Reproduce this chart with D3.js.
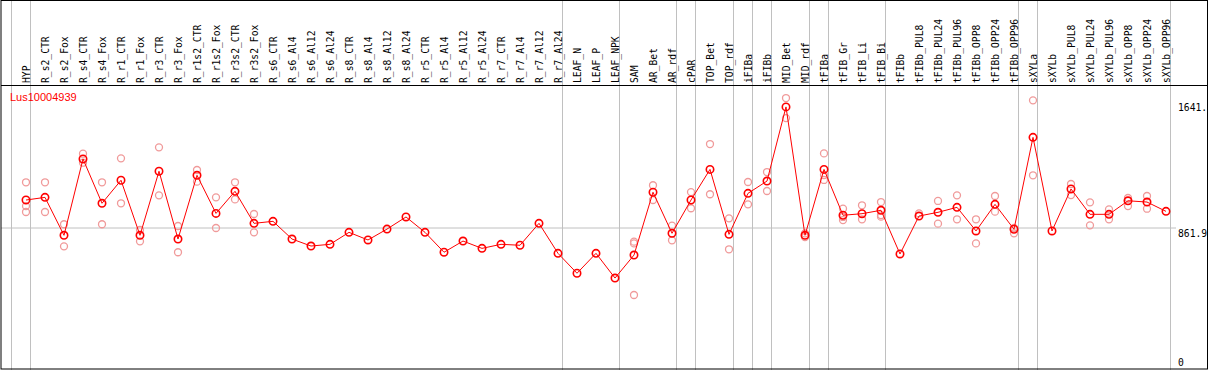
<!DOCTYPE html>
<html>
<head>
<meta charset="utf-8">
<script src="https://cdn.jsdelivr.net/npm/d3@7"></script>
<style>
body { margin: 0; background: #fff; }
svg { display: block; }
text { font-family: "DejaVu Sans Mono", "Liberation Mono", monospace; font-size: 9.7px; }
</style>
</head>
<body>
<svg width="1209" height="370"></svg>
<script>
var svg = d3.select("svg");

// sample names, in plot order
var samples = ["HYP","R_s2_CTR","R_s2_Fox","R_s4_CTR","R_s4_Fox","R_r1_CTR","R_r1_Fox","R_r3_CTR","R_r3_Fox",
  "R_r1s2_CTR","R_r1s2_Fox","R_r3s2_CTR","R_r3s2_Fox","R_s6_CTR","R_s6_Al4","R_s6_Al12","R_s6_Al24",
  "R_s8_CTR","R_s8_Al4","R_s8_Al12","R_s8_Al24","R_r5_CTR","R_r5_Al4","R_r5_Al12","R_r5_Al24",
  "R_r7_CTR","R_r7_Al4","R_r7_Al12","R_r7_Al24","LEAF_N","LEAF_P","LEAF_NPK","SAM","AR_Bet","AR_rdf",
  "cPAR","TOP_Bet","TOP_rdf","iFIBa","iFIBb","MID_Bet","MID_rdf","tFIBa","tFIB_Gr","tFIB_Li","tFIB_Bi",
  "tFIBb","tFIBb_PUL8","tFIBb_PUL24","tFIBb_PUL96","tFIBb_OPP8","tFIBb_OPP24","tFIBb_OPP96",
  "sXYLa","sXYLb","sXYLb_PUL8","sXYLb_PUL24","sXYLb_PUL96","sXYLb_OPP8","sXYLb_OPP24","sXYLb_OPP96"];

// how many samples sit in each tissue group (gray separators between them)
var groupSizes = [1, 28, 3, 3, 1, 2, 1, 1, 2, 1, 3, 7, 1, 7];

// mean expression per sample
var means = [1042,1059,815,1306,1021,1169,815,1227,791,1201,956,1098,892,905,791,746,757,
  834,785,855,933,834,706,778,731,757,751,892,699,571,699,540,688,1092,828,
  1042,1239,821,1085,1164,1641,815,1239,944,954,976,695,939,963,995,843,1014,854,
  1445,843,1113,950,950,1037,1029,969];

// replicate values (empty = only the mean is shown)
var reps = [[1156,1003,965],[1156,965],[886,744],[1340,1282],[1156,886],[1310,1021],[849,776],
  [1381,1072],[875,706],[1235,1160],[1059,862],[1156,1046],[952,834],
  [],[],[],[],[],[],[],[],[],[],[],[],[],[],[],[],[],[],[],
  [774,763,431],[1137,1042],[877,783],[1093,989],[1402,1079],[924,725],[1158,1014],[1222,1100],
  [1698,1569],[827,804],[1342,1203,1171],[986,933,913],[1008,918],[1029,945,935],[],
  [956],[1036,890],[1072,918],[918,763],[1068,967],[862,828],
  [1683,1201],[],[1145,1074],[1027,879],[982,918],[1055,1003],[1068,986],[]];

var geneName = "Lus10004939";
var yTicks = [0, 861.9, 1641];
var yTickText = ["0", "861.9", "1641."];

var x = d3.scalePoint().domain(samples).range([26, 1166]);
var y = d3.scaleLinear().domain([0, 1641]).range([362, 106.9]);

// group separators
var seps = [];
var idx = 0;
groupSizes.forEach(function(n){
  seps.push(x(samples[idx]) - 14.5);
  idx += n;
});
seps.push(x(samples[samples.length-1]) + 4.5);

svg.selectAll("line.sep").data(seps).enter().append("line")
  .attr("class", "sep")
  .attr("x1", function(d){return d}).attr("x2", function(d){return d})
  .attr("y1", 0).attr("y2", 370)
  .attr("stroke", "#c0c0c0").attr("stroke-width", 1);

// reference gridline
svg.append("line")
  .attr("x1", 1).attr("x2", 1176)
  .attr("y1", y(861.9)).attr("y2", y(861.9))
  .attr("stroke", "#c0c0c0").attr("stroke-width", 1);

// frame
svg.append("rect").attr("x", 1).attr("y", 0.5).attr("width", 1206.5).attr("height", 368.5)
  .attr("fill", "none").attr("stroke", "#000").attr("stroke-width", 1);
svg.append("line").attr("x1", 1).attr("x2", 1208).attr("y1", 85.5).attr("y2", 85.5)
  .attr("stroke", "#000").attr("stroke-width", 1);

// sample labels, vertical
svg.selectAll("text.lab").data(samples).enter().append("text")
  .attr("class", "lab")
  .attr("transform", function(d){return "translate(" + (x(d) + 4.3) + ",83) rotate(-90)"})
  .attr("fill", "#000")
  .text(function(d){return d});

// y labels
svg.selectAll("text.ytick").data(yTicks).enter().append("text")
  .attr("class", "ytick")
  .attr("x", 1178)
  .attr("y", function(d, i){return y(d) + (i == 1 ? 8.7 : 4)})
  .attr("fill", "#000")
  .text(function(d, i){return yTickText[i]});

// gene name
svg.append("text").attr("x", 10).attr("y", 100.5)
  .style("font-family", "'Liberation Sans', Arial, sans-serif").style("font-size", "11px")
  .attr("fill", "#ff0000").text(geneName);

// replicate circles
var repPts = [];
reps.forEach(function(r, i){
  r.forEach(function(v){ repPts.push({s: samples[i], v: v}); });
});
svg.selectAll("circle.rep").data(repPts).enter().append("circle")
  .attr("class", "rep")
  .attr("cx", function(d){return x(d.s)})
  .attr("cy", function(d){return y(d.v)})
  .attr("r", 3.5)
  .attr("fill", "none").attr("stroke", "#f09a9a").attr("stroke-width", 1.3);

// mean line
var line = d3.line()
  .x(function(d, i){return x(samples[i])})
  .y(function(d){return y(d)});
svg.append("path").datum(means)
  .attr("d", line)
  .attr("fill", "none").attr("stroke", "#ff0000").attr("stroke-width", 1);

svg.selectAll("circle.mean").data(means).enter().append("circle")
  .attr("class", "mean")
  .attr("cx", function(d, i){return x(samples[i])})
  .attr("cy", function(d){return y(d)})
  .attr("r", 3.7)
  .attr("fill", "none").attr("stroke", "#ff0000").attr("stroke-width", 1.6);
</script>
</body>
</html>
